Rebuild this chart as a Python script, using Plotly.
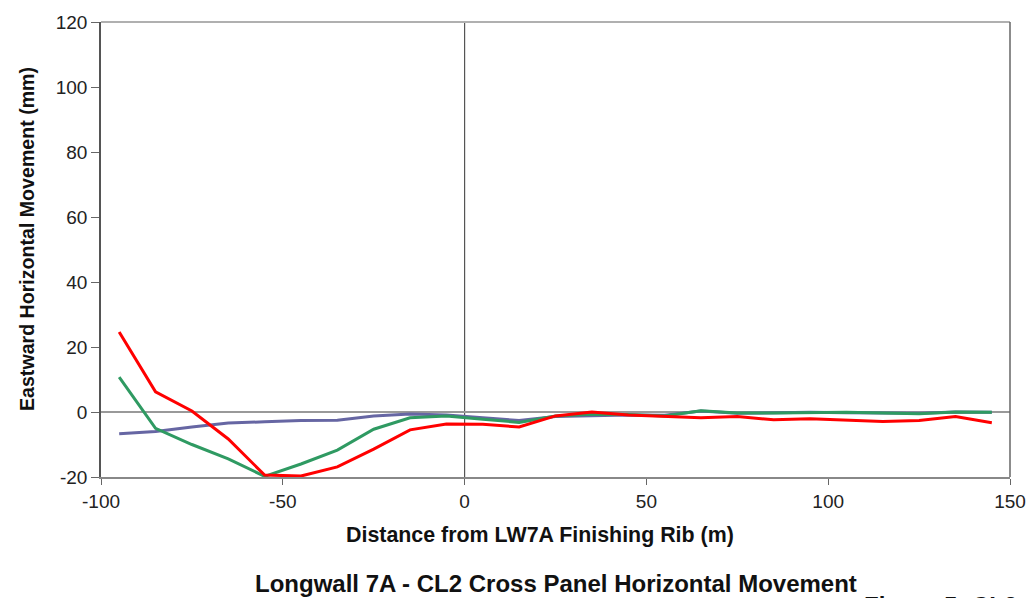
import plotly.graph_objects as go

x_vals = [-95, -85, -75, -65, -55, -45, -35, -25, -15, -5, 5, 15, 25, 35, 45, 55, 65, 75, 85, 95, 105, 115, 125, 135, 145]

blue_vals = [-6.7, -6.0, -4.6, -3.4, -3.0, -2.6, -2.5, -1.2, -0.6, -0.9, -1.8, -2.6, -1.4, -1.1, -0.9, -1.0, 0.3, -0.4, -0.2, -0.1, -0.2, -0.3, -0.4, 0.0, -0.1]
green_vals = [10.7, -5.0, -10.0, -14.4, -19.8, -16.0, -11.7, -5.3, -1.8, -1.2, -2.2, -3.2, -1.2, -0.7, -0.8, -1.2, 0.4, -0.3, -0.3, -0.2, -0.1, -0.3, -0.5, 0.0, -0.1]
red_vals = [24.6, 6.2, 0.3, -8.3, -19.4, -19.7, -16.9, -11.4, -5.5, -3.7, -3.8, -4.6, -1.2, 0.0, -0.9, -1.3, -1.8, -1.4, -2.4, -2.1, -2.5, -2.9, -2.6, -1.4, -3.3]

x_ticks = [-100, -50, 0, 50, 100, 150]
x_ticktext = ["-100", "-50", "0", "50", "100", "150"]
y_ticks = [-20, 0, 20, 40, 60, 80, 100, 120]
y_ticktext = ["-20", "0", "20", "40", "60", "80", "100", "120"]

fig = go.Figure()
fig.add_trace(go.Scatter(x=x_vals, y=blue_vals, mode="lines", line=dict(color="#6666a3", width=3), showlegend=False))
fig.add_trace(go.Scatter(x=x_vals, y=green_vals, mode="lines", line=dict(color="#2f9a62", width=3), showlegend=False))
fig.add_trace(go.Scatter(x=x_vals, y=red_vals, mode="lines", line=dict(color="#ff0000", width=3), showlegend=False))

font_family = "Liberation Sans, Arial, sans-serif"
FW, FH = 1029, 598
L, R, T, B = 101, 1010, 22, 477
W, H = R - L, B - T

def px_x(p):
    return (p - L) / W

def px_y(p):
    return (B - p) / H

fig.update_layout(
    width=FW, height=FH,
    margin=dict(l=L, r=FW - R, t=T, b=FH - B, autoexpand=False),
    plot_bgcolor="white", paper_bgcolor="white",
    font=dict(family=font_family, color="#222222"),
    xaxis=dict(
        range=[-100, 150], tickvals=x_ticks, ticktext=x_ticktext, showgrid=False, zeroline=False,
        showline=True, linecolor="#888888", linewidth=1.5, automargin=False,
        ticks="outside", ticklen=6, tickcolor="#666666",
        tickfont=dict(size=19, color="#222222"),
    ),
    yaxis=dict(
        range=[-20, 120], tickvals=y_ticks, ticktext=y_ticktext, showgrid=False,
        zeroline=True, zerolinecolor="#999999", zerolinewidth=1.5,
        showline=True, linecolor="#555555", linewidth=1.5, automargin=False,
        ticks="outside", ticklen=8, tickcolor="#666666",
        tickfont=dict(size=19, color="#222222"),
    ),
    shapes=[
        dict(type="line", xref="x", yref="paper", x0=0, x1=0, y0=0, y1=1, line=dict(color="#555555", width=1.2), layer="below"),
        dict(type="line", xref="paper", yref="paper", x0=0, x1=1, y0=1, y1=1, line=dict(color="#b0b0b0", width=2)),
        dict(type="line", xref="paper", yref="paper", x0=1, x1=1, y0=0, y1=1, line=dict(color="#666666", width=1.5)),
    ],
    annotations=[
        dict(text="<b>Distance from LW7A Finishing Rib (m)</b>", xref="paper", yref="paper",
             x=px_x(540), y=px_y(535), xanchor="center", yanchor="middle",
             showarrow=False, font=dict(size=21.4, color="#111111", family=font_family)),
        dict(text="<b>Eastward Horizontal Movement (mm)</b>", xref="paper", yref="paper",
             x=px_x(27), y=px_y(239), xanchor="center", yanchor="middle", textangle=-90,
             showarrow=False, font=dict(size=19.6, color="#111111", family=font_family)),
        dict(text="<b>Longwall 7A - CL2 Cross Panel Horizontal Movement</b>", xref="paper", yref="paper",
             x=px_x(556), y=px_y(583), xanchor="center", yanchor="middle",
             showarrow=False, font=dict(size=24, color="#111111", family=font_family)),
        dict(text="<b>Figure 5: CL2</b>", xref="paper", yref="paper",
             x=px_x(862), y=px_y(590), xanchor="left", yanchor="top",
             showarrow=False, font=dict(size=24, color="#111111", family=font_family)),
    ],
)

fig.write_html(
    "out.html",
    config={"displayModeBar": False},
    post_script="document.body.style.margin='0';document.body.style.overflow='hidden';",
)
